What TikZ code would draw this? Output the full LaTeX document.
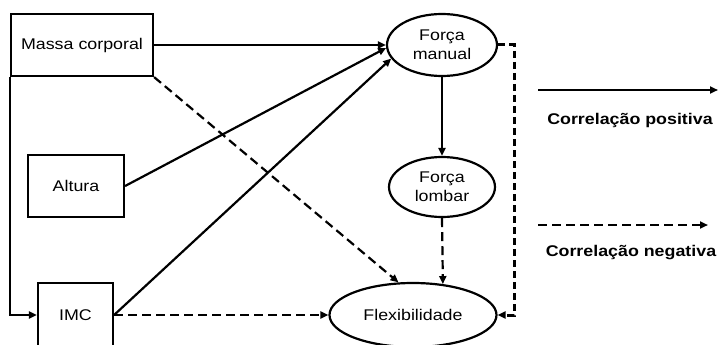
\documentclass[tikz,border=0pt]{standalone}
\usepackage{fontspec}
\setmainfont{Liberation Sans}[FakeStretch=1.15]
\usetikzlibrary{arrows.meta,shapes.geometric}

\tikzset{
    caixa/.style={draw, line width=2.2pt, inner sep=0pt, font=\fontsize{15.5}{19}\selectfont},
    elipse/.style={caixa, ellipse, align=center},
    positiva/.style={line width=2.2pt, -{Triangle[length=8pt,width=7pt]}},
    negativa/.style={positiva, dash pattern=on 9pt off 5pt},
    legenda/.style={font=\fontsize{15.5}{19}\selectfont\bfseries}
}

\begin{document}
\begin{tikzpicture}[x=1pt, y=-1pt]
    \useasboundingbox (0,0) rectangle (721,345);

    % variaveis antropometricas
    \node[caixa, minimum width=142pt, minimum height=62pt] (massa) at (82,45) {Massa corporal};
    \node[caixa, minimum width=96pt, minimum height=62pt] (altura) at (76,186) {Altura};
    \node[caixa, minimum width=75pt, minimum height=64pt] (imc) at (75.5,315) {IMC};

    % desempenho
    \node[elipse, minimum width=110pt, minimum height=62pt] (fm) at (442,45) {Força\\manual};
    \node[elipse, minimum width=106pt, minimum height=60pt] (fl) at (442,187) {Força\\lombar};
    \node[elipse, minimum width=167pt, minimum height=64pt] (flex) at (413,315) {Flexibilidade};

    % correlacoes positivas
    \draw[positiva] (massa.east) -- (fm.west);
    \draw[positiva] (altura.east) -- (fm.183);
    \draw[positiva] (imc.east) -- (fm.195);
    \draw[positiva] (massa.south west) |- (imc.west);
    \draw[positiva] (fm.south) -- (fl.north);

    % correlacoes negativas
    \draw[negativa] (massa.south east) -- (flex.114);
    \draw[negativa] (imc.east) -- (flex.west);
    \draw[negativa] (fl.south) -- (flex.46);
    \draw[negativa, line width=3pt, dash pattern=on 7pt off 4pt] (fm.east) -- ++(16,0) |- (flex.east);

    % legenda
    \coordinate (p1) at (538,90);
    \coordinate (p2) at (718,90);
    \draw[positiva] (p1) -- (p2);
    \node[legenda] (lp) at (630,120) {Correlação positiva};

    \coordinate (n1) at (538,225);
    \coordinate (n2) at (708,225);
    \draw[negativa] (n1) -- (n2);
    \node[legenda] (ln) at (631,253) {Correlação negativa};
\end{tikzpicture}
\end{document}
